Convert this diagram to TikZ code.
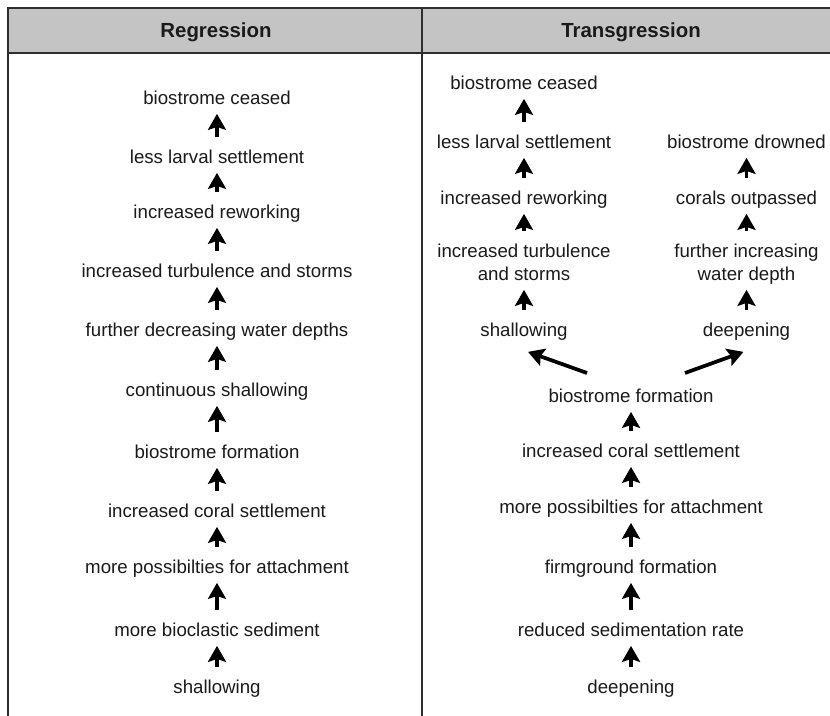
\documentclass[tikz,border=0pt]{standalone}
\usepackage{fontspec}
\setmainfont{Liberation Sans}
\usetikzlibrary{arrows.meta,calc}
\newcommand{\mytop}{\rule{0pt}{19.5pt}}
\newcommand{\mybot}{\rule[-7pt]{0pt}{7pt}}
\definecolor{hdrgray}{HTML}{C4C4C4}
\definecolor{framec}{HTML}{2E2E2E}
\definecolor{txtc}{HTML}{1A1A1A}
\tikzset{
  lbl/.style={inner sep=0pt, anchor=north, align=center, text=txtc,
    font=\fontsize{14pt}{17.25pt}\selectfont},
  hd/.style={inner sep=0pt, anchor=base, text=txtc,
    font=\fontsize{15.3pt}{18pt}\selectfont\bfseries},
  arr/.style={line width=2.8pt, draw=black,
    -{Stealth[length=12pt, width=13.5pt, inset=2.2pt]}},
  frame/.style={draw=framec, line width=1.5pt}
}
\begin{document}
\begin{tikzpicture}[x=0.75pt, y=-0.75pt]
\useasboundingbox (0,0) rectangle (830,716);
% table
\fill[hdrgray] (8,8) rectangle (845,53);
\draw[frame] (845,8) -- (8,8) -- (8,725);
\draw[frame] (8,53) -- (845,53);
\draw[frame] (422,8) -- (422,725);
\node[hd] (hreg) at (216,38) {Regression};
\node[hd] (htra) at (631,38) {Transgression};
% left column (Regression)
\node[lbl] (l1) at (217,78) {\mytop biostrome ceased\mybot};
\node[lbl] (l2) at (217,137) {\mytop less larval settlement\mybot};
\node[lbl] (l3) at (217,192) {\mytop increased reworking\mybot};
\node[lbl] (l4) at (217,251) {\mytop increased turbulence and storms\mybot};
\node[lbl] (l5) at (217,310) {\mytop further decreasing water depths\mybot};
\node[lbl] (l6) at (217,370) {\mytop continuous shallowing\mybot};
\node[lbl] (l7) at (217,432) {\mytop biostrome formation\mybot};
\node[lbl] (l8) at (217,491) {\mytop increased coral settlement\mybot};
\node[lbl] (l9) at (217,547) {\mytop more possibilties for attachment\mybot};
\node[lbl] (l10) at (217,610) {\mytop more bioclastic sediment\mybot};
\node[lbl] (l11) at (217,667) {\mytop shallowing\mybot};
\foreach \a/\b in {l2/l1,l3/l2,l4/l3,l5/l4,l6/l5,l7/l6,l8/l7,l9/l8,l10/l9,l11/l10}
  \draw[arr] (\a.north) -- (\b.south);
% right column (Transgression), shallowing branch
\node[lbl] (s1) at (524,63) {\mytop biostrome ceased\mybot};
\node[lbl] (s2) at (524,122) {\mytop less larval settlement\mybot};
\node[lbl] (s3) at (524,178) {\mytop increased reworking\mybot};
\node[lbl] (s4) at (524,231) {\mytop increased turbulence\\and storms\mybot};
\node[lbl] (s5) at (524,310) {\mytop shallowing\mybot};
\foreach \a/\b in {s2/s1,s3/s2,s4/s3,s5/s4}
  \draw[arr] (\a.north) -- (\b.south);
% deepening branch
\node[lbl] (d1) at (746.5,122) {\mytop biostrome drowned\mybot};
\node[lbl] (d2) at (746.5,178) {\mytop corals outpassed\mybot};
\node[lbl] (d3) at (746.5,231) {\mytop further increasing\\water depth\mybot};
\node[lbl] (d4) at (746.5,310) {\mytop deepening\mybot};
\foreach \a/\b in {d2/d1,d3/d2,d4/d3}
  \draw[arr] (\a.north) -- (\b.south);
% trunk
\node[lbl] (t1) at (631,376) {\mytop biostrome formation\mybot};
\node[lbl] (t2) at (631,431) {\mytop increased coral settlement\mybot};
\node[lbl] (t3) at (631,487) {\mytop more possibilties for attachment\mybot};
\node[lbl] (t4) at (631,547) {\mytop firmground formation\mybot};
\node[lbl] (t5) at (631,610) {\mytop reduced sedimentation rate\mybot};
\node[lbl] (t6) at (631,667) {\mytop deepening\mybot};
\foreach \a/\b in {t2/t1,t3/t2,t4/t3,t5/t4,t6/t5}
  \draw[arr] (\a.north) -- (\b.south);
% branching arrows
\draw[arr] ($(t1.north)+(-44,-3)$) -- ($(s5.south)+(4,6)$);
\draw[arr] ($(t1.north)+(54,-3)$) -- ($(d4.south)+(-3,6)$);
\end{tikzpicture}
\end{document}
